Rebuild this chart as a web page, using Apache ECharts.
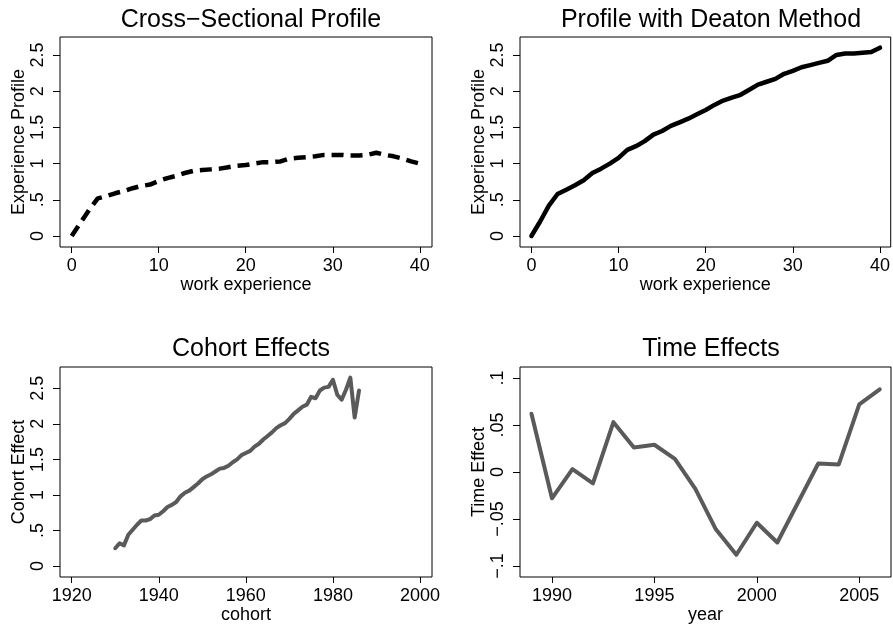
<!DOCTYPE html>
<html>
<head>
<meta charset="utf-8">
<script src="https://cdn.jsdelivr.net/npm/echarts@6/dist/echarts.min.js"></script>
<style>
  html, body { margin: 0; padding: 0; background: #fff; }
  #chart { width: 893px; height: 631px; }
</style>
</head>
<body>
<div id="chart"></div>
<script>
    // work experience 0..40
    var experience = [0,1,2,3,4,5,6,7,8,9,10,11,12,13,14,15,16,17,18,19,20,21,22,23,24,25,26,27,28,29,30,31,32,33,34,35,36,37,38,39,40];
    var crossSection = [0,0.18,0.36,0.52,0.55,0.59,0.62,0.66,0.69,0.71,0.76,0.80,0.83,0.87,0.90,0.91,0.92,0.93,0.95,0.97,0.98,1.00,1.02,1.02,1.03,1.07,1.08,1.09,1.10,1.12,1.12,1.12,1.11,1.11,1.12,1.15,1.12,1.10,1.07,1.03,1.00];
    var deaton = [0,0.20,0.42,0.58,0.64,0.70,0.77,0.87,0.93,1.00,1.08,1.19,1.24,1.31,1.40,1.45,1.52,1.57,1.62,1.68,1.74,1.81,1.87,1.91,1.95,2.02,2.09,2.13,2.17,2.24,2.28,2.33,2.36,2.39,2.42,2.50,2.52,2.52,2.53,2.54,2.60];

    var cohorts = [1930,1931,1932,1933,1934,1935,1936,1937,1938,1939,1940,1941,1942,1943,1944,1945,1946,1947,1948,1949,1950,1951,1952,1953,1954,1955,1956,1957,1958,1959,1960,1961,1962,1963,1964,1965,1966,1967,1968,1969,1970,1971,1972,1973,1974,1975,1976,1977,1978,1979,1980,1981,1982,1983,1984,1985,1986];
    var cohortEffect = [0.25,0.32,0.29,0.44,0.51,0.58,0.64,0.64,0.66,0.71,0.72,0.77,0.83,0.86,0.90,0.98,1.03,1.06,1.11,1.16,1.22,1.26,1.29,1.33,1.37,1.38,1.41,1.46,1.50,1.56,1.59,1.62,1.68,1.72,1.78,1.83,1.88,1.94,1.98,2.01,2.07,2.14,2.19,2.24,2.27,2.38,2.36,2.47,2.51,2.52,2.62,2.41,2.34,2.48,2.65,2.09,2.47];

    var years = [1989,1990,1991,1992,1993,1994,1995,1996,1997,1998,1999,2000,2001,2002,2003,2004,2005,2006];
    var timeEffect = [0.062,-0.028,0.003,-0.012,0.053,0.026,0.029,0.014,-0.018,-0.061,-0.088,-0.054,-0.075,-0.033,0.009,0.008,0.072,0.088];

    // tick values and labels
    var expTicks = [0,10,20,30,40];
    var profTicks = [0,0.5,1,1.5,2,2.5];
    var profLabels = ['0','.5','1','1.5','2','2.5'];
    var cohortTicks = [1920,1940,1960,1980,2000];
    var yearTicks = [1990,1995,2000,2005];
    var timeTicks = [-0.1,-0.05,0,0.05,0.1];
    var timeLabels = ['\u2212.1','\u2212.05','0','.05','.1'];

    var FONT = '"Liberation Sans", Arial, sans-serif';

    function pairs(xs, ys) {
        return xs.map(function (x, i) { return [x, ys[i]]; });
    }
    function labelFor(ticks, labels) {
        return function (v) {
            for (var i = 0; i < ticks.length; i++) {
                if (Math.abs(ticks[i] - v) < 1e-9) return labels[i];
            }
            return String(v);
        };
    }
    function xAxisOf(idx, name, min, max, ticks) {
        return {
            gridIndex: idx, type: 'value', min: min, max: max, position: 'bottom',
            name: name, nameLocation: 'middle', nameGap: 29,
            nameTextStyle: { fontFamily: FONT, fontSize: 18, color: '#000' },
            axisLine: { show: false, onZero: false },
            axisTick: { show: true, length: 6, inside: false, customValues: ticks, lineStyle: { color: '#000', width: 1 } },
            axisLabel: { customValues: ticks, margin: 10, fontFamily: FONT, fontSize: 18, color: '#000',
                         formatter: function (v) { return String(v); } },
            splitLine: { show: false }
        };
    }
    function yAxisOf(idx, name, min, max, ticks, labels) {
        return {
            gridIndex: idx, type: 'value', min: min, max: max, position: 'left',
            name: name, nameLocation: 'middle', nameGap: 32,
            nameTextStyle: { fontFamily: FONT, fontSize: 18, color: '#000' },
            axisLine: { show: false, onZero: false },
            axisTick: { show: true, length: 7, inside: false, customValues: ticks, lineStyle: { color: '#000', width: 1 } },
            axisLabel: { customValues: ticks, rotate: 90, margin: 13, fontFamily: FONT, fontSize: 18, color: '#000',
                         formatter: labelFor(ticks, labels) },
            splitLine: { show: false }
        };
    }
    function gridOf(left, top, width, height) {
        return { left: left, top: top, width: width, height: height, show: true,
                 borderColor: '#000', borderWidth: 1, backgroundColor: '#fff' };
    }
    function titleOf(text, cx, top) {
        return { text: text, left: cx, top: top, textAlign: 'center',
                 textStyle: { fontFamily: FONT, fontSize: 25, fontWeight: 'normal', color: '#000' } };
    }

    var chart = echarts.init(document.getElementById('chart'));
    var option = {
        animation: false,
        backgroundColor: '#fff',
        title: [
            titleOf('Cross\u2212Sectional Profile', 246, 3),
            titleOf('Profile with Deaton Method', 706, 3),
            titleOf('Cohort Effects', 246, 332),
            titleOf('Time Effects', 706, 332)
        ],
        grid: [
            gridOf(60, 37, 372, 210),
            gridOf(520, 37, 371, 210),
            gridOf(60, 367, 372, 210),
            gridOf(520, 367, 371, 210)
        ],
        xAxis: [
            xAxisOf(0, 'work experience', -1.34, 41.4, expTicks),
            xAxisOf(1, 'work experience', -1.31, 41.23, expTicks),
            xAxisOf(2, 'cohort', 1917.31, 2002.76, cohortTicks),
            xAxisOf(3, 'year', 1988.44, 2006.55, yearTicks)
        ],
        yAxis: [
            yAxisOf(0, 'Experience Profile', -0.152, 2.748, profTicks, profLabels),
            yAxisOf(1, 'Experience Profile', -0.152, 2.748, profTicks, profLabels),
            yAxisOf(2, 'Cohort Effect', -0.155, 2.80, profTicks, profLabels),
            yAxisOf(3, 'Time Effect', -0.1117, 0.1117, timeTicks, timeLabels)
        ],
        series: [
            {
                type: 'line', xAxisIndex: 0, yAxisIndex: 0, symbol: 'none',
                data: pairs(experience, crossSection),
                lineStyle: { color: '#000', width: 4.5, type: [12, 7], cap: 'butt' }
            },
            {
                type: 'line', xAxisIndex: 1, yAxisIndex: 1, symbol: 'none',
                data: pairs(experience, deaton),
                lineStyle: { color: '#000', width: 4.5, cap: 'round', join: 'round' }
            },
            {
                type: 'line', xAxisIndex: 2, yAxisIndex: 2, symbol: 'none',
                data: pairs(cohorts, cohortEffect),
                lineStyle: { color: '#5a5a5a', width: 4, cap: 'round', join: 'round' }
            },
            {
                type: 'line', xAxisIndex: 3, yAxisIndex: 3, symbol: 'none',
                data: pairs(years, timeEffect),
                lineStyle: { color: '#5a5a5a', width: 4, cap: 'round', join: 'round' }
            }
        ]
    };
    chart.setOption(option);
</script>
</body>
</html>
